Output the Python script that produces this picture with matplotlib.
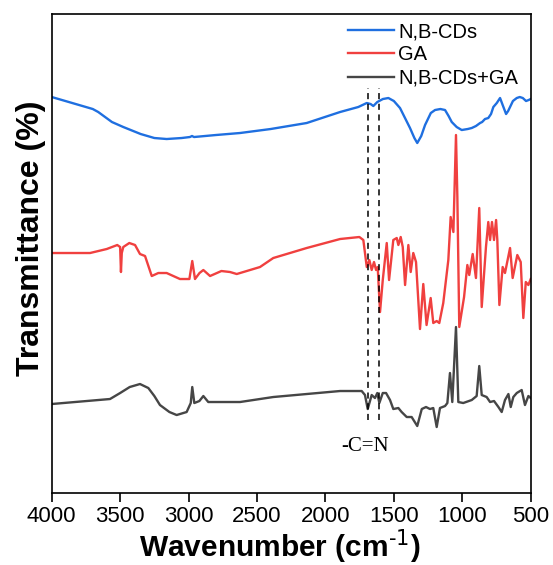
import matplotlib
matplotlib.use("Agg")
import matplotlib.pyplot as plt

# wavenumber (cm-1) / transmittance (offset, arbitrary units)
nbcd_wn = [4000, 3800, 3700, 3660, 3600, 3560, 3477, 3350, 3250, 3160, 3050, 2990, 2975, 2960, 2800,
           2624, 2400, 2137, 1893, 1760, 1698, 1670, 1650, 1621, 1580, 1540, 1500, 1455, 1382, 1350,
           1329, 1300, 1272, 1230, 1199, 1160, 1126, 1100, 1077, 1041, 1004, 960, 931, 900, 870, 855,
           834, 810, 790, 773, 748, 724, 705, 680, 665, 651, 630, 602, 580, 558, 534, 515, 500]
nbcd_t = [396, 388, 384, 381, 375, 371, 366, 359, 355, 354, 355, 356, 357, 356, 358,
          360, 364, 370, 381, 386, 390, 389, 387, 391, 394, 395, 392, 385, 365, 355,
          350, 357, 368, 380, 383, 384, 383, 377, 371, 366, 363, 364, 365, 367, 370, 371,
          374, 375, 379, 386, 390, 395, 388, 379, 382, 386, 392, 395, 396, 395, 392, 393, 394]

ga_wn = [4000, 3720, 3598, 3521, 3500, 3494, 3488, 3477, 3433, 3391, 3355, 3318, 3269, 3221, 3160,
         3063, 2994, 2973, 2953, 2920, 2892, 2843, 2760, 2697, 2648, 2575, 2478, 2381, 2137, 1893,
         1752, 1723, 1698, 1679, 1662, 1645, 1630, 1618, 1601, 1581, 1552, 1535, 1504, 1479, 1467,
         1450, 1435, 1418, 1394, 1377, 1358, 1338, 1309, 1285, 1261, 1231, 1212, 1187, 1168, 1139,
         1102, 1085, 1065, 1046, 1036, 1022, 987, 963, 949, 924, 900, 876, 858, 827, 810, 797, 783,
         768, 753, 744, 729, 705, 688, 651, 632, 598, 573, 554, 536, 517, 500]
ga_t = [240, 240, 244, 248, 246, 221, 240, 246, 250, 248, 239, 237, 217, 220, 220,
        214, 214, 232, 214, 220, 223, 217, 222, 221, 219, 222, 226, 235, 245, 254,
        256, 253, 226, 233, 223, 231, 223, 226, 181, 213, 250, 213, 253, 255, 248,
        256, 246, 208, 248, 221, 240, 231, 164, 209, 168, 195, 170, 172, 170, 190,
        233, 276, 261, 358, 296, 166, 196, 228, 218, 239, 215, 285, 186, 246, 271, 253, 271,
        253, 273, 253, 188, 226, 220, 245, 215, 238, 231, 175, 211, 208, 214]

mix_wn = [4000, 3574, 3500, 3430, 3355, 3294, 3250, 3209, 3140, 3087, 3014, 2984, 2973, 2958, 2921,
          2892, 2856, 2624, 2381, 2137, 1893, 1735, 1711, 1691, 1662, 1638, 1621, 1606, 1581, 1557,
          1528, 1504, 1467, 1443, 1406, 1370, 1329, 1296, 1265, 1236, 1212, 1187, 1163, 1126, 1109,
          1090, 1073, 1046, 1029, 993, 931, 895, 876, 858, 822, 797, 768, 736, 712, 688, 663, 646,
          627, 602, 566, 542, 517, 500]
mix_t = [89, 94, 100, 106, 109, 105, 97, 88, 81, 78, 81, 90, 106, 90, 92,
         97, 91, 91, 96, 99, 102, 102, 98, 84, 98, 95, 100, 90, 100, 100,
         93, 84, 85, 81, 76, 76, 67, 84, 86, 84, 85, 66, 85, 87, 90,
         120, 91, 166, 91, 90, 93, 97, 127, 98, 96, 91, 92, 86, 81, 93, 99, 86,
         96, 100, 103, 88, 97, 95]

labels = ["N,B-CDs", "GA", "N,B-CDs+GA"]
colors = ["#1f6fe0", "#f0403f", "#464646"]
cn_bands = [1691, 1606]

fig = plt.figure(figsize=(5.53, 5.65), dpi=100)
ax = fig.add_axes([0.0935, 0.1274, 0.8662, 0.8478])

ax.plot(nbcd_wn, nbcd_t, color=colors[0], lw=1.7, label=labels[0])
ax.plot(ga_wn, ga_t, color=colors[1], lw=1.7, label=labels[1])
ax.plot(mix_wn, mix_t, color=colors[2], lw=1.7, label=labels[2])

for b in cn_bands:
    ax.plot([b, b], [73, 405], color="black", ls=(0, (4, 3)), lw=1.1)

ax.text(1714, 47, "-C=N", family="Liberation Serif", fontsize=15,
        ha="center", va="center")

ax.set_xlim(4000, 500)
ax.set_ylim(0, 479)
ax.set_xticks([4000, 3500, 3000, 2500, 2000, 1500, 1000, 500])
ax.set_yticks([])
ax.tick_params(axis="x", direction="out", length=6.2, width=1.2, labelsize=16, pad=3.5)
for lab in ax.get_xticklabels():
    lab.set_family("Liberation Sans")
for s in ax.spines.values():
    s.set_linewidth(1.2)

ax.set_xlabel("Wavenumber (cm$^{\\text{-1}}$)", family="Liberation Sans",
              fontsize=21.5, fontweight="bold", labelpad=0, x=0.476)
ax.set_ylabel("Transmittance (%)", family="Liberation Sans", fontsize=23,
              fontweight="bold", labelpad=4, y=0.531)

leg = ax.legend(loc="upper right", frameon=False, prop={"family": "Liberation Sans", "size": 14.5},
                handlelength=2.3, handletextpad=0.2, labelspacing=0.22,
                borderaxespad=0.0, bbox_to_anchor=(0.99, 1.0))

fig.savefig("out.png", dpi=100)
